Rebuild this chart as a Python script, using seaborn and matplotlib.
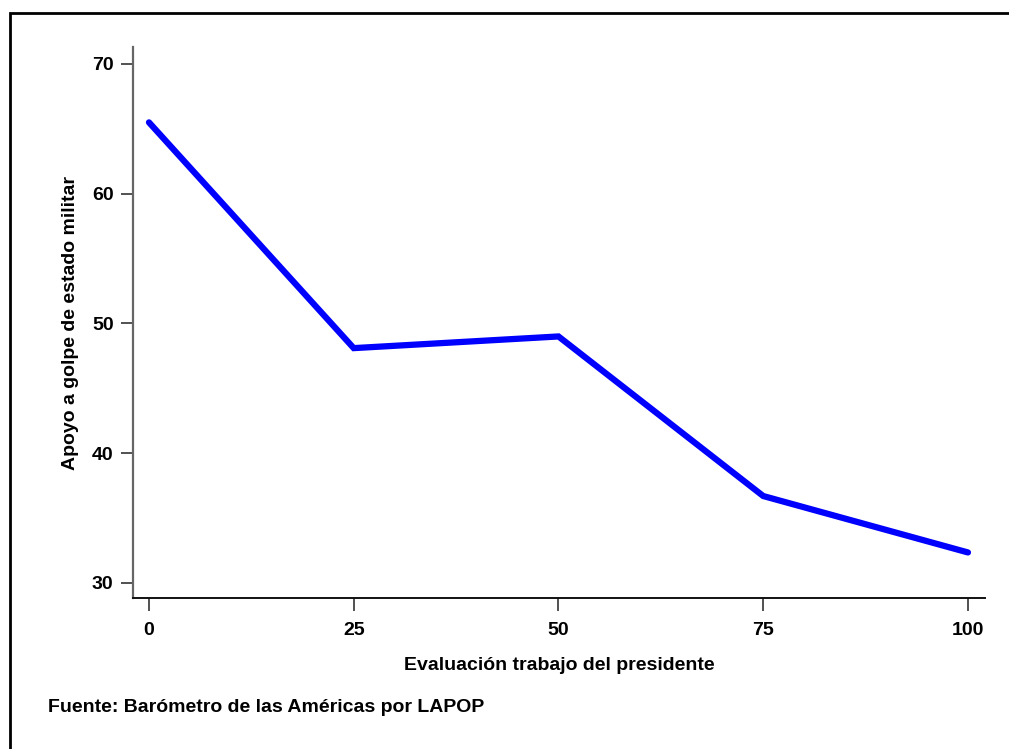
import matplotlib
matplotlib.use("Agg")
import matplotlib.pyplot as plt
import seaborn as sns
import pandas as pd
from matplotlib.patches import Rectangle

evaluacion = [0, 25, 50, 75, 100]
apoyo = [65.5, 48.1, 49.0, 36.7, 32.35]
xticks = [0, 25, 50, 75, 100]
yticks = [30, 40, 50, 60, 70]

sns.set_theme(style="white")
plt.rcParams['font.family'] = ['Liberation Sans', 'DejaVu Sans']
plt.rcParams['font.weight'] = 'bold'
plt.rcParams['text.color'] = 'black'
plt.rcParams['axes.labelcolor'] = 'black'
plt.rcParams['xtick.color'] = 'black'
plt.rcParams['ytick.color'] = 'black'

FS = 14

df = pd.DataFrame({"x": evaluacion, "y": apoyo})

fig = plt.figure(figsize=(10.09, 7.49), dpi=100)
ax = fig.add_axes([133/1009, 1-598/749, (985-133)/1009, (598-47)/749])
sns.lineplot(data=df, x="x", y="y", ax=ax, color="#0000ff", linewidth=4.5,
             solid_capstyle="round", solid_joinstyle="miter")

ax.set_xlim(-1.95, 102.08)
ax.set_ylim(28.84, 71.31)
ax.set_xticks(xticks)
ax.set_yticks(yticks)
ax.set_xticklabels([str(v) for v in xticks], fontsize=FS, fontweight='bold', color='black')
ax.set_yticklabels([str(v) for v in yticks], fontsize=FS, fontweight='bold', color='black')
ax.tick_params(axis='both', which='major', length=9, width=1.2, color='#333333',
               direction='out', left=True, bottom=True, pad=5)
ax.tick_params(axis='x', pad=8)

for s in ['top', 'right']:
    ax.spines[s].set_visible(False)
ax.spines['left'].set_color('#666666')
ax.spines['left'].set_linewidth(1.6)
ax.spines['bottom'].set_color('#111111')
ax.spines['bottom'].set_linewidth(1.4)

ax.set_xlabel("Evaluación trabajo del presidente", fontsize=FS, fontweight='bold',
              labelpad=13, color='black')
ax.set_ylabel("Apoyo a golpe de estado militar", fontsize=FS, fontweight='bold',
              labelpad=9, color='black')
ax.grid(False)

fig.text(48/1009, 1-708/749, "Fuente: Barómetro de las Américas por LAPOP",
         fontsize=FS, fontweight='bold', va='center', ha='left', color='black')

rect = Rectangle((9.5/1009, -0.05), 1.1, 1-12.5/749+0.05, transform=fig.transFigure,
                 fill=False, edgecolor='black', linewidth=2, clip_on=False)
fig.patches.append(rect)

fig.savefig("out.png", dpi=100)
